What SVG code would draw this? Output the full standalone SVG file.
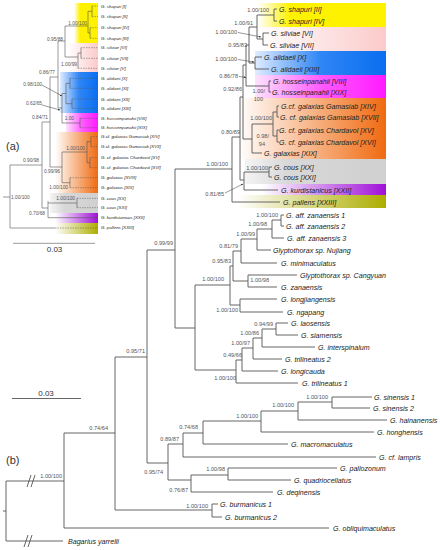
<svg xmlns="http://www.w3.org/2000/svg" width="440" height="550" viewBox="0 0 440 550">
<defs>
<linearGradient id="gY" x1="0" x2="1" y1="0" y2="0"><stop offset="0" stop-color="#fff"/><stop offset="0.25" stop-color="#fff200"/><stop offset="1" stop-color="#fff200"/></linearGradient>
<linearGradient id="gP" x1="0" x2="1" y1="0" y2="0"><stop offset="0" stop-color="#fff"/><stop offset="1" stop-color="#fccaca"/></linearGradient>
<linearGradient id="gB" x1="0" x2="1" y1="0" y2="0"><stop offset="0" stop-color="#e0ecff"/><stop offset="0.5" stop-color="#2f86f5"/><stop offset="1" stop-color="#0a6ef0"/></linearGradient>
<linearGradient id="gM" x1="0" x2="1" y1="0" y2="0"><stop offset="0" stop-color="#fde4fd"/><stop offset="0.5" stop-color="#ff5cff"/><stop offset="1" stop-color="#ff1aff"/></linearGradient>
<linearGradient id="gO" x1="0" x2="1" y1="0" y2="0"><stop offset="0" stop-color="#fff"/><stop offset="1" stop-color="#f06a10"/></linearGradient>
<linearGradient id="gG" x1="0" x2="1" y1="0" y2="0"><stop offset="0" stop-color="#f4f4f4"/><stop offset="0.3" stop-color="#d8d8d8"/><stop offset="1" stop-color="#d0d0d0"/></linearGradient>
<linearGradient id="gV" x1="0" x2="1" y1="0" y2="0"><stop offset="0" stop-color="#fff"/><stop offset="1" stop-color="#a010d8"/></linearGradient>
<linearGradient id="gL" x1="0" x2="1" y1="0" y2="0"><stop offset="0" stop-color="#fff"/><stop offset="1" stop-color="#adad00"/></linearGradient>
<marker id="ah" viewBox="0 0 6 6" refX="6" refY="3" markerWidth="4" markerHeight="4" orient="auto"><path d="M0,0 L6,3 L0,6 z" fill="#333"/></marker>
<style>
.br{fill:none;stroke:#555;stroke-width:0.9}
.bra{fill:none;stroke:#555;stroke-width:0.6}
.dsh{fill:none;stroke:#555;stroke-width:0.5;stroke-dasharray:1.5 1}
.arr{fill:none;stroke:#333;stroke-width:0.5;marker-end:url(#ah)}
.tx{font-family:"Liberation Sans",Arial,sans-serif;font-style:italic;font-size:7.1px;fill:#222}
.lb{font-family:"Liberation Sans",Arial,sans-serif;font-size:5.6px;fill:#555}
.ta{font-family:"Liberation Sans",Arial,sans-serif;font-style:italic;font-size:4.4px;fill:#222}
.la{font-family:"Liberation Sans",Arial,sans-serif;font-size:4.8px;fill:#555}
.big{font-family:"Liberation Sans",Arial,sans-serif;font-size:11px;fill:#333}
.sc{font-family:"Liberation Sans",Arial,sans-serif;font-size:8px;fill:#333}
</style>
</defs>
<rect width="440" height="550" fill="#fff"/>

<!-- colour bands, tree b -->
<g id="bands-b">
<rect x="258" y="3" width="128" height="24" fill="url(#gY)"/>
<rect x="256" y="27" width="130" height="24" fill="url(#gP)"/>
<rect x="255" y="51" width="131" height="24" fill="url(#gB)"/>
<rect x="255" y="75" width="131" height="23" fill="url(#gM)"/>
<rect x="238" y="98" width="148" height="61" fill="url(#gO)"/>
<rect x="245" y="159" width="141" height="25" fill="url(#gG)"/>
<rect x="262" y="184" width="124" height="11" fill="url(#gV)"/>
<rect x="238" y="195" width="148" height="13" fill="url(#gL)"/>
</g>
<!-- colour bands, tree a -->
<g id="bands-a">
<rect x="74" y="3" width="24" height="40" fill="url(#gY)"/>
<rect x="68" y="43" width="30" height="29" fill="url(#gP)"/>
<rect x="60" y="72" width="38" height="41" fill="url(#gB)"/>
<rect x="66" y="113" width="32" height="19" fill="url(#gM)"/>
<rect x="55" y="132" width="43" height="61" fill="url(#gO)"/>
<rect x="50" y="193" width="48" height="20" fill="url(#gG)"/>
<rect x="55" y="213" width="43" height="10" fill="url(#gV)"/>
<rect x="55" y="223" width="43" height="11" fill="url(#gL)"/>
</g>

<!-- connectors, tree b -->
<g id="connectors-b">
<path class="br" d="M3 511H6M6 481V541M6 481H64M6 541H63"/>
<path class="br" d="M27 487L31 475M31 487L35 475M24 547L28 535M28 547L32 535" stroke-width="0.8"/>
<path class="br" d="M64 433V528M64 528H329M64 433H115"/>
<path class="br" d="M115 357V510M115 510H212M212 504V517M212 504H218M212 517H222M115 357H147"/>
<path class="br" d="M147 250V463M147 250H175M147 463H168"/>
<path class="br" d="M168 444V480M168 444H183M168 480H191M183 433V457M183 433H203M183 457H376M203 421V444M203 421H261M203 444H288M261 411V432M261 411H298M261 432H374M298 402V420M298 402H332M298 420H387M332 397V408M332 397H372M332 408H370"/>
<path class="br" d="M191 475V492M191 475H228M191 492H273M228 468V480M228 468H337M228 480H291"/>
<path class="br" d="M175 169V328M175 169H232M175 328H195M195 285V370M195 285H230M195 370H236"/>
<path class="br" d="M230 266V305M230 266H233M230 305H240M240 299V312M240 299H277M240 312H283"/>
<path class="br" d="M233 251V281M233 251H241M233 281H248M248 275V287M248 275H297M248 287H277"/>
<path class="br" d="M241 239V263M241 239H257M241 263H277M257 229V250M257 229H272M257 250H271M272 220V238M272 220H281M272 238H284M281 215V226M281 215H284M281 226H284"/>
<path class="br" d="M236 360V383M236 383H298M236 360H242M242 348V371M242 371H278M242 348H253M253 338V359M253 359H282M253 338H262M262 329V347M262 347H315M262 329H276M276 323V335M276 323H288M276 335H298"/>
<path class="br" d="M232 137V202M232 202H280M232 137H240M240 97V180M240 97H243M240 180H244M244 172V190M244 172H269M244 190H278M269 167V177M269 167H272M269 177H272"/>
<path class="br" d="M243 65V139M243 65H246M243 139H252M252 124V153M252 124H273M252 153H262M273 112V136M273 112H277M273 136H277M277 106V117M277 106H279M277 117H279M277 130V142M277 130H279M277 142H279"/>
<path class="br" d="M246 45V86M246 45H249M246 86H269M269 81V92M269 81H271M269 92H271M249 27V63M249 27H257M249 63H255M255 57V69M255 57H262M255 69H269M257 15V39M257 15H274M257 39H263M274 9V21M274 9H277M274 21H277M263 33V45M263 33H269M263 45H268"/>
<path class="arr" d="M238 32.5L261 37"/>
<path class="arr" d="M238 59.5L254 62"/>
<path class="arr" d="M239 76.5L246 77.5"/>
<path class="arr" d="M225 193L243 184"/>
<path class="br" d="M12 398.5H81"/>
</g>

<!-- connectors, tree a -->
<g id="connectors-a">
<path class="bra" d="M3 197H10M10 165V228M10 228H55M10 165H42M42 122V208M42 122H50M42 208H48"/>
<path class="bra" d="M48 201V217.7M48 203H77M48 217.7H98M77 198.3V207.7"/>
<path class="bra" d="M50 77V167M50 77H58M50 167H62M62 152V182.7M62 152H87M62 182.7H70M70 177.7V187.7M87 141.7V162.7M87 141.7H91M87 162.7H90M91 136.7V146.7M90 157.7V167.7"/>
<path class="bra" d="M58 41V108M58 41H65M58 108H62M62 93.5V123M62 93.5H66M62 123H80M80 118.3V127.7M66 83.3V103.7M66 83.3H70M66 103.7H72M70 78.3V88.3M72 99V108.3"/>
<path class="bra" d="M65 26V57M65 26H88M65 57H78M78 53V68.3M78 53H81M81 47.7V58.3M88 11.3V33M88 11.3H92M88 33H90M92 6V16.7M90 27.7V38.3"/>
<path class="dsh" d="M92 6H98M92 16.7H98M90 27.7H98M90 38.3H98M81 47.7H98M81 58.3H98M78 68.3H98M70 78.3H98M70 88.3H98M72 99H98M72 108.3H98M80 118.3H98M80 127.7H98M91 136.7H98M91 146.7H98M90 157.7H98M90 167.7H98M70 177.7H98M70 187.7H98M77 198.3H98M77 207.7H98M55 228H98"/>
<path class="arr" d="M42 85L62 96"/>
<path class="arr" d="M42 105L60 110"/>
<path class="bra" d="M13 243.3H95" stroke-width="0.8"/>
</g>

<!-- support labels tree b -->
<g id="labels-b" class="lb" text-anchor="end">
<text x="62" y="478">1.00/100</text>
<text x="108" y="430">0.74/64</text>
<text x="208" y="508">1.00/100</text>
<text x="145" y="353">0.95/71</text>
<text x="173" y="245">0.99/99</text>
<text x="163" y="474">0.95/74</text>
<text x="179" y="441">0.89/87</text>
<text x="188" y="492">0.76/87</text>
<text x="198" y="429">0.74/68</text>
<text x="258" y="418">1.00/100</text>
<text x="294" y="407">1.00/100</text>
<text x="328" y="399">1.00/100</text>
<text x="225" y="471">1.00/98</text>
<text x="228" y="166">1.00/100</text>
<text x="224" y="281">1.00/100</text>
<text x="236" y="380">1.00/100</text>
<text x="231" y="263">0.95/83</text>
<text x="238" y="312">1.00/100</text>
<text x="238" y="248">0.81/79</text>
<text x="255" y="236">1.00/99</text>
<text x="267" y="226">1.00/98</text>
<text x="278" y="217">1.00/100</text>
<text x="269" y="282">1.00/98</text>
<text x="242" y="357">0.49/66</text>
<text x="250" y="345">1.00/97</text>
<text x="259" y="335">1.00/86</text>
<text x="273" y="326">0.94/99</text>
<text x="240" y="134">0.80/89</text>
<text x="242" y="91">0.92/86</text>
<text x="268" y="170">1.00/100</text>
<text x="224" y="196">0.81/85</text>
<text x="272" y="120">1.00/100</text>
<text x="269" y="11.5">1.00/100</text>
<text x="253" y="25">1.00/91</text>
<text x="237" y="34">1.00/100</text>
<text x="247" y="47">0.95/83</text>
<text x="237" y="61">1.00/100</text>
<text x="238" y="78">0.86/78</text>
<text x="265" y="93">1.00/</text>
<text x="263" y="101">100</text>
<text x="269" y="138">0.98/</text>
<text x="265" y="146">94</text>
</g>

<!-- support labels tree a -->
<g id="labels-a" class="la" text-anchor="end">
<text x="11" y="199" text-anchor="start">1.00/100</text>
<text x="39" y="162">0.90/98</text>
<text x="48" y="119">0.84/71</text>
<text x="45" y="215">0.70/68</text>
<text x="75" y="200">1.00/100</text>
<text x="60" y="173">0.99/96</text>
<text x="85" y="150">1.00/100</text>
<text x="68" y="189">1.00/100</text>
<text x="55" y="74">0.86/77</text>
<text x="63" y="41">0.95/88</text>
<text x="87" y="25">1.00/100</text>
<text x="77" y="66">1.00/99</text>
<text x="42" y="86">0.98/100</text>
<text x="42" y="105">0.62/65</text>
<text x="74" y="120">1.00</text>
</g>

<!-- taxa tree b -->
<g id="taxa-b" class="tx">
<g id="n-shapuri-II"><text x="279" y="11.5">G. shapuri [II]</text></g>
<g id="n-shapuri-IV"><text x="279" y="23.5">G. shapuri [IV]</text></g>
<g id="n-silviae-VI"><text x="271" y="35.5">G. silviae [VI]</text></g>
<g id="n-silviae-VII"><text x="270" y="47.5">G. silviae [VII]</text></g>
<g id="n-alidaeii-X"><text x="264" y="59.5">G. alidaeii [X]</text></g>
<g id="n-alidaeii-XIII"><text x="271" y="71.5">G. alidaeii [XIII]</text></g>
<g id="n-hoss-VIII"><text x="273" y="83.5">G. hosseinpanahii [VIII]</text></g>
<g id="n-hoss-XIX"><text x="272" y="94.5">G. hosseinpanahii [XIX]</text></g>
<g id="n-gam-XIV"><text x="281" y="108.5">G.cf. galaxias Gamasiab [XIV]</text></g>
<g id="n-gam-XVII"><text x="280" y="119.5">G. cf. galaxias Gamasiab [XVII]</text></g>
<g id="n-char-XV"><text x="279" y="132.5">G. cf. galaxias Chardavol [XV]</text></g>
<g id="n-char-XVI"><text x="279" y="144.5">G. cf. galaxias Chardavol [XVI]</text></g>
<g id="n-galaxias-XIX"><text x="264" y="155.5">G. galaxias [XIX]</text></g>
<g id="n-cous-XX"><text x="274" y="169.5">G. cous [XX]</text></g>
<g id="n-cous-XXI"><text x="274" y="179.5">G. cous [XXI]</text></g>
<g id="n-kurd"><text x="281" y="192.5">G. kurdistanicus [XXII]</text></g>
<g id="n-pallens"><text x="283" y="204.5">G. pallens [XXIII]</text></g>
<g id="n-aff1"><text x="286" y="217.5">G. aff. zanaensis 1</text></g>
<g id="n-aff2"><text x="286" y="228.5">G. aff. zanaensis 2</text></g>
<g id="n-aff3"><text x="287" y="240.5">G. aff. zanaensis 3</text></g>
<g id="n-nujiang"><text x="273" y="252.5">Glyptothorax sp. Nujiang</text></g>
<g id="n-minimac"><text x="281" y="265.5">G. minimaculatus</text></g>
<g id="n-cangyuan"><text x="300" y="277.5">Glyptothorax sp. Cangyuan</text></g>
<g id="n-zanaensis"><text x="281" y="289.5">G. zanaensis</text></g>
<g id="n-longjiang"><text x="281" y="301.5">G. longjiangensis</text></g>
<g id="n-ngapang"><text x="287" y="314.5">G. ngapang</text></g>
<g id="n-laosensis"><text x="291" y="325.5">G. laosensis</text></g>
<g id="n-siamensis"><text x="301" y="337.5">G. siamensis</text></g>
<g id="n-intersp"><text x="318" y="349.5">G. interspinalum</text></g>
<g id="n-tril2"><text x="285" y="361.5">G. trilineatus 2</text></g>
<g id="n-longicauda"><text x="281" y="373.5">G. longicauda</text></g>
<g id="n-tril1"><text x="302" y="385.5">G. trilineatus 1</text></g>
<g id="n-sin1"><text x="374" y="399.5">G. sinensis 1</text></g>
<g id="n-sin2"><text x="373" y="410.5">G. sinensis 2</text></g>
<g id="n-hainan"><text x="390" y="422.5">G. hainanensis</text></g>
<g id="n-hongh"><text x="377" y="434.5">G. honghensis</text></g>
<g id="n-macro"><text x="291" y="446.5">G. macromaculatus</text></g>
<g id="n-lampris"><text x="379" y="459.5">G. cf. lampris</text></g>
<g id="n-pallozonum"><text x="340" y="470.5">G. pallozonum</text></g>
<g id="n-quadri"><text x="294" y="482.5">G. quadriocellatus</text></g>
<g id="n-deqin"><text x="277" y="494.5">G. deqinensis</text></g>
<g id="n-burm1"><text x="220" y="506.5">G. burmanicus 1</text></g>
<g id="n-burm2"><text x="225" y="519.5">G. burmanicus 2</text></g>
<g id="n-obliq"><text x="333" y="531">G. obliquimaculatus</text></g>
<g id="n-bagarius"><text x="68" y="544">Bagarius yarrelli</text></g>
</g>

<!-- taxa tree a -->
<g id="taxa-a" class="ta">
<text x="101" y="7.6">G. shapuri [I]</text>
<text x="101" y="18.3">G. shapuri [II]</text>
<text x="101" y="29.3">G. shapuri [IV]</text>
<text x="101" y="39.9">G. shapuri [III]</text>
<text x="101" y="49.3">G. silviae [VI]</text>
<text x="101" y="59.9">G. silviae [VII]</text>
<text x="101" y="69.9">G. silviae [V]</text>
<text x="101" y="79.9">G. alidaeii [X]</text>
<text x="101" y="89.9">G. alidaeii [XI]</text>
<text x="101" y="100.6">G. alidaeii [XII]</text>
<text x="101" y="109.9">G. alidaeii [XIII]</text>
<text x="101" y="119.9">G. hosseinpanahii [VIII]</text>
<text x="101" y="129.3">G. hosseinpanahii [XIX]</text>
<text x="101" y="138.3">G.cf. galaxias Gamasiab [XIV]</text>
<text x="101" y="148.3">G.cf. galaxias Gamasiab [XVII]</text>
<text x="101" y="159.3">G. cf. galaxias Chardavol [XV]</text>
<text x="101" y="169.3">G. cf. galaxias Chardavol [XVI]</text>
<text x="101" y="179.3">G. galaxias [XVIII]</text>
<text x="101" y="189.3">G. galaxias [XIX]</text>
<text x="101" y="199.9">G. cous [XX]</text>
<text x="101" y="209.3">G. cous [XXI]</text>
<text x="101" y="219.3">G. kurdistanicus [XXII]</text>
<text x="101" y="229.3">G. pallens [XXIII]</text>
</g>

<g id="captions">
<text class="big" x="6" y="150">(a)</text>
<text class="big" x="6" y="464">(b)</text>
<text class="sc" x="54.5" y="252" text-anchor="middle">0.03</text>
<text class="sc" x="46" y="395.5" text-anchor="middle">0.03</text>
</g>
</svg>
